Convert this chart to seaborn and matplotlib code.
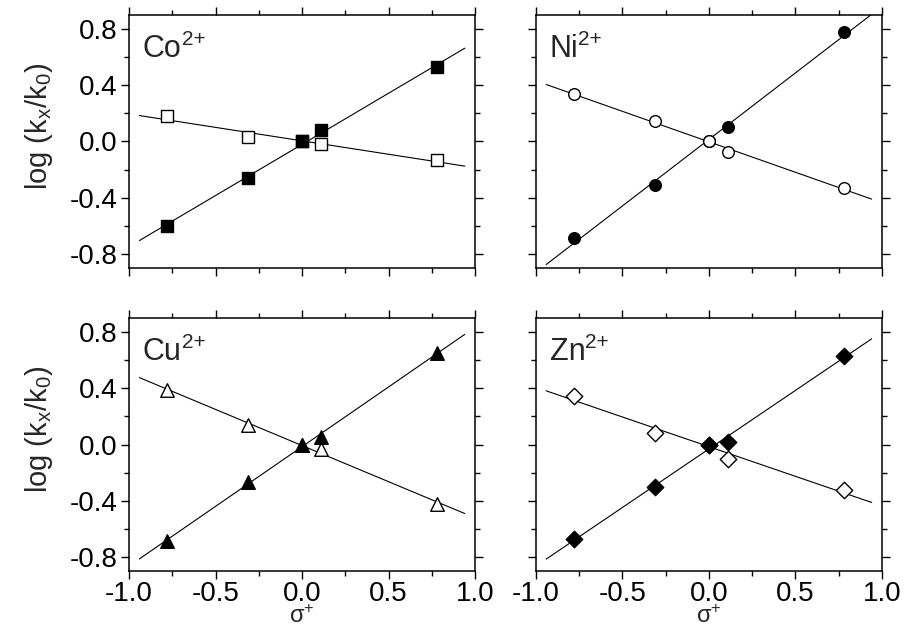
import numpy as np
import pandas as pd
import matplotlib
matplotlib.use('Agg')
import matplotlib.pyplot as plt
import seaborn as sns
from matplotlib.ticker import MultipleLocator, AutoMinorLocator, FormatStrFormatter

# --- data ---
sigma = [-0.78, -0.31, 0.0, 0.11, 0.78]
metals = ['Co', 'Ni', 'Cu', 'Zn']
filled = {
    'Co': [-0.60, -0.26, 0.00, 0.084, 0.527],
    'Ni': [-0.69, -0.307, 0.00, 0.10, 0.779],
    'Cu': [-0.686, -0.264, 0.00, 0.056, 0.649],
    'Zn': [-0.669, -0.304, 0.00, 0.016, 0.632],
}
hollow = {
    'Co': [0.179, 0.032, 0.00, -0.018, -0.132],
    'Ni': [0.338, 0.143, 0.00, -0.075, -0.331],
    'Cu': [0.388, 0.137, 0.00, -0.034, -0.425],
    'Zn': [0.345, 0.085, 0.00, -0.10, -0.321],
}
markers = {'Co': 's', 'Ni': 'o', 'Cu': '^', 'Zn': 'D'}
sizes = {'Co': 80, 'Ni': 70, 'Cu': 95, 'Zn': 70}
fit_range = (-0.94, 0.94)

rows = []
for m in metals:
    for x, yf, yh in zip(sigma, filled[m], hollow[m]):
        rows.append({'Metal': m, 'sigma': x, 'Kind': 'filled', 'logk': yf})
        rows.append({'Metal': m, 'sigma': x, 'Kind': 'open', 'logk': yh})
df = pd.DataFrame(rows)

sns.set_style('ticks')
plt.rcParams['font.family'] = ['Liberation Sans', 'DejaVu Sans']
plt.rcParams['mathtext.fontset'] = 'custom'
plt.rcParams['mathtext.rm'] = 'Liberation Sans'
plt.rcParams['mathtext.it'] = 'Liberation Sans:italic'
plt.rcParams['axes.unicode_minus'] = False

fig, axes = plt.subplots(2, 2, figsize=(9.05, 6.32), dpi=100)
plt.subplots_adjust(left=0.1425, right=0.9746, bottom=0.0965, top=0.9763,
                    wspace=0.175, hspace=0.198)

for ax, m in zip(axes.flat, metals):
    d = df[df['Metal'] == m]
    # fit lines drawn over +-0.94
    ax.set_xlim(*fit_range)
    for kind in ['filled', 'open']:
        sub = d[d['Kind'] == kind]
        sns.regplot(data=sub, x='sigma', y='logk', ax=ax, scatter=False, ci=None,
                    truncate=False, line_kws={'color': 'black', 'lw': 0.8})
    # markers
    order = ['filled', 'open'] if m == 'Ni' else ['open', 'filled']
    for z, kind in enumerate(order):
        sub = d[d['Kind'] == kind]
        sns.scatterplot(data=sub, x='sigma', y='logk', ax=ax, marker=markers[m],
                        s=sizes[m], color='black' if kind == 'filled' else 'white',
                        edgecolor='black', linewidth=1.0, zorder=3 + z)

    ax.set_xlim(-1.0, 1.0)
    ax.set_ylim(-0.9, 0.9)
    ax.xaxis.set_major_locator(MultipleLocator(0.5))
    ax.xaxis.set_minor_locator(AutoMinorLocator(2))
    ax.yaxis.set_major_locator(MultipleLocator(0.4))
    ax.yaxis.set_minor_locator(AutoMinorLocator(2))
    ax.tick_params(which='both', direction='out', top=True, right=True,
                   width=1.0, labelsize=20, pad=2, color='black', labelcolor='black')
    ax.tick_params(which='major', length=6)
    ax.tick_params(which='minor', length=3.5)
    ax.tick_params(axis='x', which='major', pad=1)
    for sp in ax.spines.values():
        sp.set_linewidth(1.1)
        sp.set_color('black')
    ax.yaxis.set_major_formatter(FormatStrFormatter('%.1f'))
    ax.xaxis.set_major_formatter(FormatStrFormatter('%.1f'))

    t = ax.text(0.04, 0.835, m, transform=ax.transAxes,
                fontsize=22, ha='left', va='baseline')
    ax.annotate('2+', xy=(1.0, 0.5), xycoords=t, fontsize=15,
                ha='left', va='bottom')

    ax.set_xlabel('')
    ax.set_ylabel('')

for ax in axes[:, 0]:
    ax.set_ylabel(r'log (k$_{\mathregular{x}}$/k$_{\mathregular{0}}$)', fontsize=21)
    ax.yaxis.set_label_coords(-0.215, 0.56)
for ax in axes[:, 1]:
    ax.tick_params(labelleft=False)
for ax in axes[0, :]:
    ax.tick_params(labelbottom=False)
for ax in axes[1, :]:
    ax.set_xlabel(r'σ$^{\mathregular{+}}$', fontsize=17, labelpad=-1)

plt.savefig('out.png', dpi=100)
